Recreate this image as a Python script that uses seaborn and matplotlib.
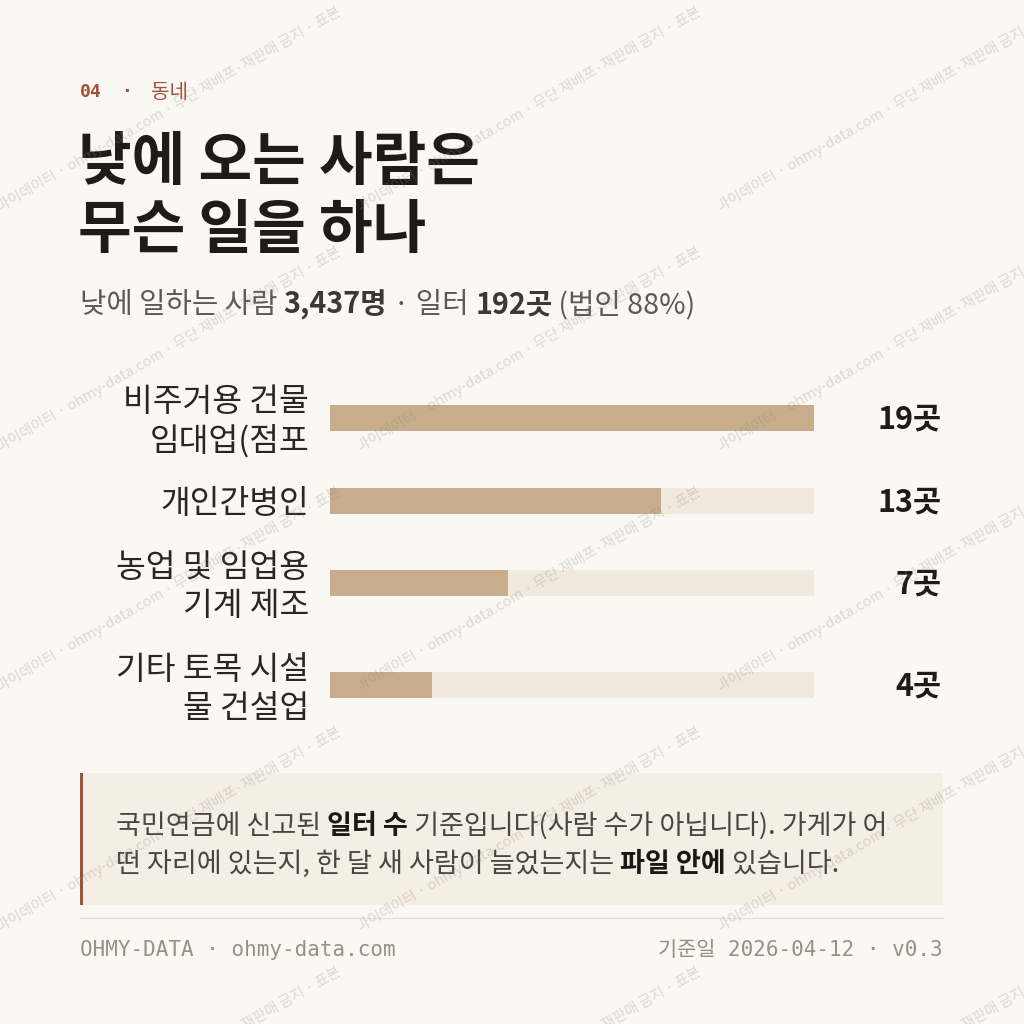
import numpy as np
import pandas as pd
import matplotlib
matplotlib.use("Agg")
import matplotlib.pyplot as plt
import matplotlib.transforms as mtransforms
from matplotlib.patches import Rectangle
from matplotlib.lines import Line2D
import seaborn as sns

# data
labels = ['비주거용 건물\n임대업(점포', '개인간병인', '농업 및 임업용\n기계 제조', '기타 토목 시설\n물 건설업']
counts = [19, 13, 7, 4]
unit = '곳'
kicker_no = '04'
kicker_txt = '동네'
title_lines = ['낮에 오는 사람은', '무슨 일을 하나']
subtitle = [('낮에 일하는 사람 ', 'normal'), ('3,437명', 'bold'), (' · 일터 ', 'normal'),
            ('192곳', 'bold'), (' (법인 88%)', 'normal')]
note_lines = [
    [('국민연금에 신고된 ', 'normal'), ('일터 수', 'bold'), (' 기준입니다(사람 수가 아닙니다). 가게가 어', 'normal')],
    [('떤 자리에 있는지, 한 달 새 사람이 늘었는지는 ', 'normal'), ('파일 안에', 'bold'), (' 있습니다.', 'normal')],
]
footer_left = 'OHMY-DATA · ohmy-data.com'
footer_right = '기준일 2026-04-12 · v0.3'
watermark = '오마이데이터 · ohmy-data.com · 무단 재배포·재판매 금지 · 표본'

BG = '#FAF8F3'
TRACK = '#F1E9DD'
FILL = '#C8AD8C'
ACCENT = '#A3503A'
INK = '#1E1B18'

sns.set_style('white')
plt.rcParams['font.family'] = ['Noto Sans CJK KR', 'DejaVu Sans']
MONO = ['DejaVu Sans Mono', 'Noto Sans CJK KR']

W = H = 1024
fig = plt.figure(figsize=(10.24, 10.24), dpi=100, facecolor=BG)
renderer = fig.canvas.get_renderer()


def fx(x):
    return x / W


def fy(y):
    return 1 - y / H


def rich(x, y, parts, size, colors):
    # draw pieces one after another, measuring each
    cx = x
    for s, w in parts:
        t = fig.text(fx(cx), fy(y), s, fontsize=size, fontweight=w, color=colors[w], va='center')
        cx += t.get_window_extent(renderer).width


# header
fig.text(fx(80), fy(92), kicker_no, fontsize=13, family=MONO, fontweight='bold', color=ACCENT, va='center')
fig.text(fx(127), fy(92), '·', fontsize=13, family=MONO, fontweight='bold', color=ACCENT, va='center', ha='center')
fig.text(fx(151), fy(92), kicker_txt, fontsize=14.5, color=ACCENT, va='center')

for i, line in enumerate(title_lines):
    fig.text(fx(78), fy(163 + i * 68), line, fontsize=42, fontweight='bold', color=INK, va='center')

rich(80, 305, subtitle, 20.7, {'normal': '#5E5954', 'bold': '#3C3833'})

# row layout from number of label lines
line_h = 39
gap = 24
centers = []
top = 379
for lab in labels:
    n = len(lab.split('\n'))
    centers.append(top + n * line_h / 2)
    top += n * line_h + gap

df = pd.DataFrame({'pos': centers, 'count': counts, 'track': [max(counts)] * len(counts)})

ax = fig.add_axes([fx(330), fy(725), 484 / W, 355 / H])
ax.patch.set_visible(False)
bw = 26 / np.min(np.diff(centers))
sns.barplot(data=df, x='track', y='pos', orient='y', native_scale=True, color=TRACK,
            saturation=1, width=bw, errorbar=None, linewidth=0, ax=ax)
sns.barplot(data=df, x='count', y='pos', orient='y', native_scale=True, color=FILL,
            saturation=1, width=bw, errorbar=None, linewidth=0, ax=ax)
ax.set_xlim(0, max(counts))
ax.set_ylim(725, 370)
ax.axis('off')

trans = mtransforms.blended_transform_factory(fig.transFigure, ax.transData)
for lab, c, v in zip(labels, centers, counts):
    parts = lab.split('\n')
    n = len(parts)
    for k, p in enumerate(parts):
        ax.text(fx(309), c + 4 + (k - (n - 1) / 2) * line_h, p, transform=trans, ha='right', va='center',
                fontsize=23.3, color='#2A2622')
    ax.text(fx(942), c + 2, f'{v}{unit}', transform=trans, ha='right', va='center',
            fontsize=22, fontweight='bold', color=INK)

# note box
fig.add_artist(Rectangle((fx(80), fy(905)), 863 / W, 132 / H, transform=fig.transFigure,
                         facecolor='#F5EEE4', edgecolor='none', zorder=1))
fig.add_artist(Rectangle((fx(80), fy(905)), 3 / W, 132 / H, transform=fig.transFigure,
                         facecolor=ACCENT, edgecolor='none', zorder=1))
for i, parts in enumerate(note_lines):
    rich(116, 826 + i * 38, parts, 19.5, {'normal': '#4A4540', 'bold': '#1A1714'})

# footer
fig.add_artist(Line2D([fx(80), fx(943)], [fy(918), fy(918)], transform=fig.transFigure,
                      color='#E7E2D8', lw=1))
fig.text(fx(80), fy(950), footer_left, fontsize=15, family=MONO, color='#9A8F82', va='center')
fig.text(fx(943), fy(950), footer_right, fontsize=15, family=MONO, color='#9A8F82', va='center', ha='right')

# watermark tiles
for i in range(4):
    for j in range(5):
        x0 = i * 360
        t = fig.text(fx(x0 - 12), fy(218 + j * 240), watermark, fontsize=10.5, rotation=30,
                     rotation_mode='anchor', ha='left', va='baseline', color='#8C847A',
                     alpha=0.28, zorder=20)
        t.set_clip_box(mtransforms.Bbox.from_extents(x0, 0, x0 + 360, H))
        t.set_clip_on(True)

fig.savefig('out.png', dpi=100, facecolor=BG)
